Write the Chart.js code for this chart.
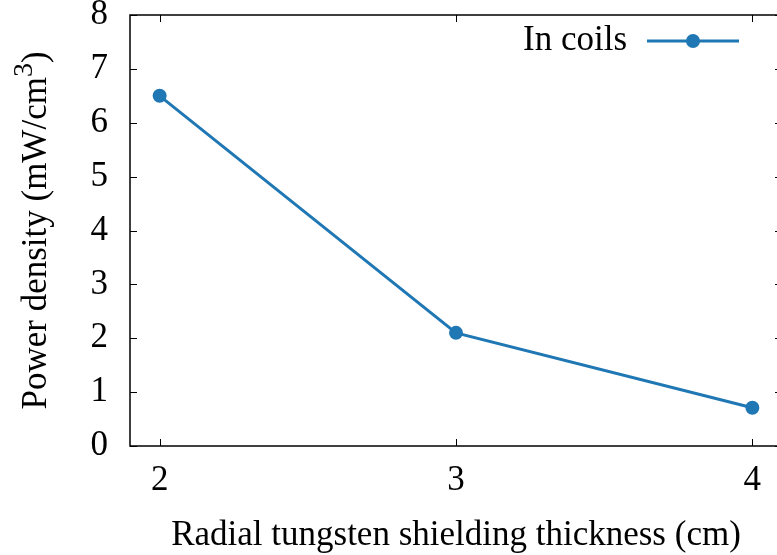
<!DOCTYPE html>
<html>
<head>
<meta charset="utf-8">
<title>Power density vs shielding thickness</title>
<script src="https://cdn.jsdelivr.net/npm/chart.js@4/dist/chart.umd.min.js"></script>
<style>
  html, body { margin: 0; padding: 0; background: #fff; overflow: hidden; }
  #wrap { width: 777px; height: 555px; overflow: hidden; }
</style>
</head>
<body>
<div id="wrap"><canvas id="plot" width="782" height="555"></canvas></div>
<script>
// shielding thickness (cm) and power density in the coils (mW/cm^3)
const thickness = [2, 3, 4];
const powerDensity = [6.50, 2.10, 0.71];
const xTicks = [2, 3, 4];
const yTicks = [0, 1, 2, 3, 4, 5, 6, 7, 8];

const FONT = 'Liberation Serif, Times New Roman, serif';
const BLUE = 'rgb(31,119,180)';

// keep the plot box fixed, labels are allowed to hang outside it
function noOverhang(s) {
  s.paddingTop = 0;
  s.paddingBottom = 0;
  s.paddingLeft = 0;
  s.paddingRight = 0;
}

// gnuplot-like frame: border with inward ticks on all four sides, key and y label
const framePlugin = {
  id: 'frame',
  afterDraw(chart) {
    const { ctx, chartArea: a, scales } = chart;
    const tick = 7;
    ctx.save();
    ctx.strokeStyle = '#000';
    ctx.lineWidth = 1.5;
    ctx.strokeRect(a.left, a.top, a.right - a.left, a.bottom - a.top);
    ctx.lineWidth = 1;
    ctx.beginPath();
    xTicks.forEach(v => {
      const x = Math.round(scales.x.getPixelForValue(v)) + 0.5;
      ctx.moveTo(x, a.bottom); ctx.lineTo(x, a.bottom - tick);
      ctx.moveTo(x, a.top); ctx.lineTo(x, a.top + tick);
    });
    yTicks.forEach(v => {
      const y = Math.round(scales.y.getPixelForValue(v)) + 0.5;
      ctx.moveTo(a.left, y); ctx.lineTo(a.left + tick, y);
      ctx.moveTo(a.right, y); ctx.lineTo(a.right - tick, y);
    });
    ctx.stroke();

    // key
    const ky = 41;
    ctx.fillStyle = '#000';
    ctx.font = '35px ' + FONT;
    ctx.textAlign = 'right';
    ctx.textBaseline = 'middle';
    ctx.fillText(chart.data.datasets[0].label, 627, ky);
    ctx.strokeStyle = BLUE;
    ctx.lineWidth = 3;
    ctx.beginPath();
    ctx.moveTo(647, ky); ctx.lineTo(739, ky);
    ctx.stroke();
    ctx.fillStyle = BLUE;
    ctx.beginPath();
    ctx.arc(693, ky, 7, 0, Math.PI * 2);
    ctx.fill();

    // y label with superscript
    ctx.translate(37, (a.top + a.bottom) / 2);
    ctx.rotate(-Math.PI / 2);
    ctx.fillStyle = '#000';
    ctx.textAlign = 'left';
    ctx.textBaseline = 'middle';
    const main = 'Power density (mW/cm';
    const sup = '3';
    const tail = ')';
    ctx.font = '35px ' + FONT;
    const wMain = ctx.measureText(main).width;
    const wTail = ctx.measureText(tail).width;
    ctx.font = '28px ' + FONT;
    const wSup = ctx.measureText(sup).width;
    let x = -(wMain + wSup + wTail) / 2;
    ctx.font = '35px ' + FONT;
    ctx.fillText(main, x, 0);
    x += wMain;
    ctx.font = '28px ' + FONT;
    ctx.fillText(sup, x, -12);
    x += wSup;
    ctx.font = '35px ' + FONT;
    ctx.fillText(tail, x, 0);
    ctx.restore();
  }
};

new Chart(document.getElementById('plot'), {
  type: 'line',
  data: {
    labels: thickness,
    datasets: [{
      label: 'In coils',
      data: thickness.map((t, i) => ({ x: t, y: powerDensity[i] })),
      borderColor: BLUE,
      backgroundColor: BLUE,
      borderWidth: 3,
      pointRadius: 7,
      pointBackgroundColor: BLUE,
      pointBorderWidth: 0,
      tension: 0
    }]
  },
  options: {
    responsive: false,
    animation: false,
    layout: { autoPadding: false, padding: { top: 15, right: 0, left: 0, bottom: 0 } },
    plugins: { legend: { display: false }, tooltip: { enabled: false } },
    scales: {
      x: {
        type: 'linear',
        min: 1.9,
        max: 4.1,
        afterBuildTicks: s => { s.ticks = xTicks.map(v => ({ value: v })); },
        afterFit: s => { s.height = 109; noOverhang(s); },
        grid: { display: false, drawTicks: false },
        border: { display: false },
        ticks: { color: '#000', padding: 14, font: { family: FONT, size: 35 }, maxRotation: 0 },
        title: {
          display: true,
          text: 'Radial tungsten shielding thickness (cm)',
          color: '#000',
          font: { family: FONT, size: 35, lineHeight: 1 },
          padding: { top: 0, bottom: 2 }
        }
      },
      y: {
        min: 0,
        max: 8,
        afterBuildTicks: s => { s.ticks = yTicks.map(v => ({ value: v })); },
        afterFit: s => { s.width = 130; noOverhang(s); },
        grid: { display: false, drawTicks: false },
        border: { display: false },
        ticks: { color: '#000', padding: 22, font: { family: FONT, size: 35 } }
      }
    }
  },
  plugins: [framePlugin]
});
</script>
</body>
</html>
